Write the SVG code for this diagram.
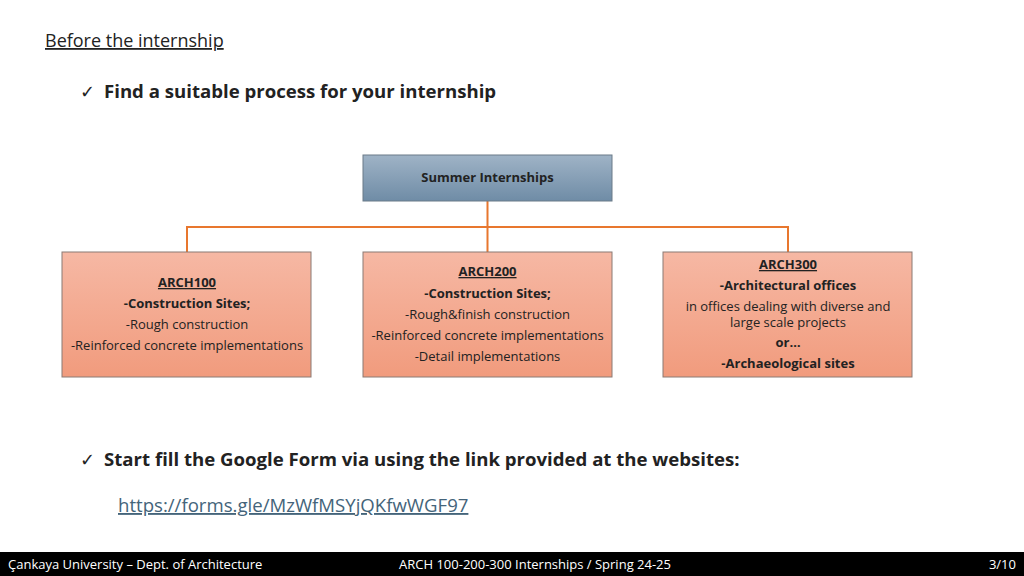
<svg xmlns="http://www.w3.org/2000/svg" width="1024" height="576" viewBox="0 0 1024 576">
<defs>
<linearGradient id="gb" x1="0" y1="0" x2="0" y2="1"><stop offset="0" stop-color="#9fb3c6"/><stop offset="1" stop-color="#6f8ca6"/></linearGradient>
<linearGradient id="go" x1="0" y1="0" x2="0" y2="1"><stop offset="0" stop-color="#f6b8a4"/><stop offset="1" stop-color="#f19b7d"/></linearGradient>
</defs>
<style>
text{font-family:"Open Sans","Noto Sans",sans-serif;fill:#222}
.b{font-weight:bold}
.n{font-size:13px;text-anchor:middle}
.box{fill:url(#go);stroke:#8a7a74;stroke-width:1}
.c{stroke:#e8772e;stroke-width:2;fill:none}
.f{fill:#fff;font-size:13px}
</style>
<rect width="1024" height="576" fill="#fff"/>
<text x="45" y="47" font-size="18" text-decoration="underline">Before the internship</text>
<text x="80" y="98" font-size="18">✓</text>
<text x="104" y="98" font-size="18.6" class="b">Find a suitable process for your internship</text>
<g id="connectors">
<path class="c" d="M487.5 201V252M187 252V227H788V252"/>
</g>
<g id="root"><rect x="363" y="155" width="249" height="46" fill="url(#gb)" stroke="#6b7b88"/>
<text x="487.5" y="182" class="n b">Summer Internships</text></g>
<g id="arch100"><rect class="box" x="62" y="252" width="249" height="125"/>
<text class="n b" x="187" y="287" text-decoration="underline">ARCH100</text>
<text class="n b" x="187" y="308">-Construction Sites;</text>
<text class="n" x="187" y="329">-Rough construction</text>
<text class="n" x="187" y="350">-Reinforced concrete implementations</text></g>
<g id="arch200"><rect class="box" x="363" y="252" width="249" height="125"/>
<text class="n b" x="487.5" y="276" text-decoration="underline">ARCH200</text>
<text class="n b" x="487.5" y="298">-Construction Sites;</text>
<text class="n" x="487.5" y="319">-Rough&amp;finish construction</text>
<text class="n" x="487.5" y="340">-Reinforced concrete implementations</text>
<text class="n" x="487.5" y="361">-Detail implementations</text></g>
<g id="arch300"><rect class="box" x="663" y="252" width="249" height="125"/>
<text class="n b" x="788" y="269" text-decoration="underline">ARCH300</text>
<text class="n b" x="788" y="290">-Architectural offices</text>
<text class="n" x="788" y="311">in offices dealing with diverse and</text>
<text class="n" x="788" y="327">large scale projects</text>
<text class="n b" x="788" y="347">or…</text>
<text class="n b" x="788" y="368">-Archaeological sites</text></g>
<text x="80" y="466" font-size="18">✓</text>
<text x="104" y="466" font-size="18.6" class="b">Start fill the Google Form via using the link provided at the websites:</text>
<text x="118" y="512" font-size="18.6" style="fill:#44647a" text-decoration="underline">https://forms.gle/MzWfMSYjQKfwWGF97</text>
<rect x="0" y="552" width="1024" height="24" fill="#000"/>
<text x="8" y="569" class="f" style="fill:#fff">Çankaya University – Dept. of Architecture</text>
<text x="399" y="569" class="f" style="fill:#fff">ARCH 100-200-300 Internships   / Spring 24-25</text>
<text x="1016" y="569" class="f" style="fill:#fff" text-anchor="end">3/10</text>
</svg>
